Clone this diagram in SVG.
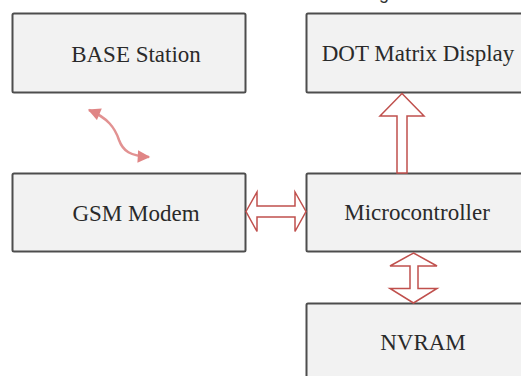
<svg xmlns="http://www.w3.org/2000/svg" width="521" height="376" viewBox="0 0 521 376">
  <defs>
    <style>
      .box { fill: #f2f2f2; stroke: #4d4d4d; stroke-width: 2; }
      .label { font-family: "Liberation Serif", "Times New Roman", serif; font-size: 23px; fill: #2a2a2a; text-anchor: middle; }
      .block { fill: #ffffff; stroke: #c0504d; stroke-width: 1.5; stroke-linejoin: miter; }
      .wireless { fill: none; stroke: #e29292; stroke-width: 2.5; }
    </style>
    <marker id="headRed" viewBox="0 0 10 10" refX="9" refY="5" markerWidth="5.5" markerHeight="5" orient="auto-start-reverse" markerUnits="strokeWidth">
      <path d="M0 0 L10 5 L0 10 Z" fill="#e08585"/>
    </marker>
  </defs>

  <rect width="521" height="376" fill="#ffffff"/>

  <!-- clipped heading descender -->
  <text x="379" y="-1" font-family="Liberation Sans, Arial, sans-serif" font-size="18" fill="#333333">g</text>

  <g id="base-station">
    <rect class="box" x="12.5" y="13.5" width="233" height="79" rx="1.5"/>
    <text class="label" x="136" y="62">BASE Station</text>
  </g>

  <g id="dot-matrix-display">
    <rect class="box" x="306.5" y="13.5" width="230" height="79" rx="1.5"/>
    <text class="label" x="418" y="61">DOT Matrix Display</text>
  </g>

  <g id="gsm-modem">
    <rect class="box" x="12.5" y="173.5" width="233" height="78" rx="1.5"/>
    <text class="label" x="136" y="221">GSM Modem</text>
  </g>

  <g id="microcontroller">
    <rect class="box" x="306.5" y="173.5" width="230" height="78" rx="1.5"/>
    <text class="label" x="417" y="220">Microcontroller</text>
  </g>

  <g id="nvram">
    <rect class="box" x="306.5" y="303.5" width="230" height="90" rx="1.5"/>
    <text class="label" x="423" y="350">NVRAM</text>
  </g>

  <g id="connectors">
    <!-- wireless link between base station and modem -->
    <path class="wireless" d="M89 110 C108 118 115 128 119 140 C123 151 130 156 149 157" marker-start="url(#headRed)" marker-end="url(#headRed)"/>
    <!-- modem to microcontroller -->
    <path class="block" d="M246 211.5 L257 192 L257 206 L295 206 L295 192 L306 211.5 L295 231.5 L295 217 L257 217 L257 231.5 Z"/>
    <!-- microcontroller to display -->
    <path class="block" d="M402 93.5 L424 116 L407 116 L407 173 L397 173 L397 116 L380 116 Z"/>
    <!-- microcontroller to NVRAM -->
    <path class="block" d="M413.5 253 L437 266 L418 266 L418 288.5 L437 288.5 L413.5 303 L390 288.5 L410 288.5 L410 266 L390 266 Z"/>
  </g>
</svg>
